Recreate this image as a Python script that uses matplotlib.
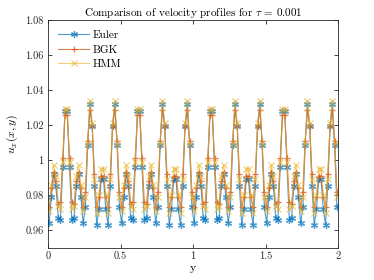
import numpy as np
import matplotlib
matplotlib.use("Agg")
import matplotlib.pyplot as plt

plt.rcParams['font.family'] = 'serif'
plt.rcParams['font.serif'] = ['cmr10', 'DejaVu Serif']
plt.rcParams['mathtext.fontset'] = 'cm'
plt.rcParams['axes.formatter.use_mathtext'] = True

# cell-centred grid on [0, 2] with 128 cells
n_cells = 128
y = (np.arange(n_cells) + 0.5) * 2.0 / n_cells

euler = [
    0.964, 0.979, 0.992, 0.985, 0.967, 0.966, 0.996, 1.028, 1.028, 0.996, 0.966, 0.967, 0.985, 0.992, 0.979, 0.964,
    0.973, 1.0086, 1.032, 1.0196, 0.985, 0.963, 0.972, 0.989, 0.989, 0.972, 0.963, 0.985, 1.0196, 1.032, 1.0086, 0.973,
    0.964, 0.979, 0.992, 0.985, 0.967, 0.966, 0.996, 1.028, 1.028, 0.996, 0.966, 0.967, 0.985, 0.992, 0.979, 0.964,
    0.973, 1.0086, 1.032, 1.0196, 0.985, 0.963, 0.972, 0.989, 0.989, 0.972, 0.963, 0.985, 1.0196, 1.032, 1.0086, 0.973,
    0.964, 0.979, 0.992, 0.985, 0.967, 0.966, 0.996, 1.028, 1.028, 0.996, 0.966, 0.967, 0.985, 0.992, 0.979, 0.964,
    0.973, 1.0086, 1.032, 1.0196, 0.985, 0.963, 0.972, 0.989, 0.989, 0.972, 0.963, 0.985, 1.0196, 1.032, 1.0086, 0.973,
    0.964, 0.979, 0.992, 0.985, 0.967, 0.966, 0.996, 1.028, 1.028, 0.996, 0.966, 0.967, 0.985, 0.992, 0.979, 0.964,
    0.973, 1.0086, 1.032, 1.0196, 0.985, 0.963, 0.972, 0.989, 0.989, 0.972, 0.963, 0.985, 1.0196, 1.032, 1.0086, 0.973,
]

bgk = [
    0.973, 0.984, 0.993, 0.988, 0.975, 0.976, 1.001, 1.0255, 1.0255, 1.001, 0.976, 0.975, 0.988, 0.993, 0.984, 0.973,
    0.982, 1.011, 1.0285, 1.0195, 0.992, 0.973, 0.979, 0.991, 0.991, 0.979, 0.973, 0.992, 1.0195, 1.0285, 1.011, 0.982,
    0.973, 0.984, 0.993, 0.988, 0.975, 0.976, 1.001, 1.0255, 1.0255, 1.001, 0.976, 0.975, 0.988, 0.993, 0.984, 0.973,
    0.982, 1.011, 1.0285, 1.0195, 0.992, 0.973, 0.979, 0.991, 0.991, 0.979, 0.973, 0.992, 1.0195, 1.0285, 1.011, 0.982,
    0.973, 0.984, 0.993, 0.988, 0.975, 0.976, 1.001, 1.0255, 1.0255, 1.001, 0.976, 0.975, 0.988, 0.993, 0.984, 0.973,
    0.982, 1.011, 1.0285, 1.0195, 0.992, 0.973, 0.979, 0.991, 0.991, 0.979, 0.973, 0.992, 1.0195, 1.0285, 1.011, 0.982,
    0.973, 0.984, 0.993, 0.988, 0.975, 0.976, 1.001, 1.0255, 1.0255, 1.001, 0.976, 0.975, 0.988, 0.993, 0.984, 0.973,
    0.982, 1.011, 1.0285, 1.0195, 0.992, 0.973, 0.979, 0.991, 0.991, 0.979, 0.973, 0.992, 1.0195, 1.0285, 1.011, 0.982,
]

hmm = [
    0.971, 0.986, 0.997, 0.991, 0.974, 0.972, 0.999, 1.029, 1.029, 0.999, 0.972, 0.974, 0.991, 0.997, 0.986, 0.971,
    0.979, 1.010, 1.034, 1.021, 0.989, 0.970, 0.980, 0.995, 0.995, 0.980, 0.970, 0.989, 1.021, 1.034, 1.010, 0.979,
    0.971, 0.986, 0.997, 0.991, 0.974, 0.972, 0.999, 1.029, 1.029, 0.999, 0.972, 0.974, 0.991, 0.997, 0.986, 0.971,
    0.979, 1.010, 1.034, 1.021, 0.989, 0.970, 0.980, 0.995, 0.995, 0.980, 0.970, 0.989, 1.021, 1.034, 1.010, 0.979,
    0.971, 0.986, 0.997, 0.991, 0.974, 0.972, 0.999, 1.029, 1.029, 0.999, 0.972, 0.974, 0.991, 0.997, 0.986, 0.971,
    0.979, 1.010, 1.034, 1.021, 0.989, 0.970, 0.980, 0.995, 0.995, 0.980, 0.970, 0.989, 1.021, 1.034, 1.010, 0.979,
    0.971, 0.986, 0.997, 0.991, 0.974, 0.972, 0.999, 1.029, 1.029, 0.999, 0.972, 0.974, 0.991, 0.997, 0.986, 0.971,
    0.979, 1.010, 1.034, 1.021, 0.989, 0.970, 0.980, 0.995, 0.995, 0.980, 0.970, 0.989, 1.021, 1.034, 1.010, 0.979,
]

series_names = ["Euler", "BGK", "HMM"]
xticks = [0, 0.5, 1, 1.5, 2]
xticklabels = ["0", "0.5", "1", "1.5", "2"]
yticks = [0.96, 0.98, 1.0, 1.02, 1.04, 1.06, 1.08]
yticklabels = ["0.96", "0.98", "1", "1.02", "1.04", "1.06", "1.08"]

fig = plt.figure(figsize=(3.74, 2.80), dpi=100)
ax = fig.add_axes([48 / 374, 1 - 247.5 / 280, 290 / 374, 227.5 / 280])

asterisk = (6, 2, 0)
ax.plot(y, euler, color='#0072BD', marker=asterisk, markersize=5, markeredgewidth=0.9,
        linewidth=0.8, alpha=0.7, label=series_names[0])
ax.plot(y, bgk, color='#D95319', marker='+', markersize=5, markeredgewidth=0.9,
        linewidth=0.8, alpha=0.75, label=series_names[1])
ax.plot(y, hmm, color='#EDB120', marker='x', markersize=4, markeredgewidth=0.9,
        linewidth=0.8, alpha=0.6, label=series_names[2])

ax.set_xlim(0, 2)
ax.set_ylim(0.95, 1.08)
ax.set_xticks(xticks)
ax.set_xticklabels(xticklabels)
ax.set_yticks(yticks)
ax.set_yticklabels(yticklabels)
ax.tick_params(direction='in', top=True, right=True, length=3, width=0.6,
               labelsize=7.5, colors='#262626', pad=3)
for s in ax.spines.values():
    s.set_linewidth(0.6)
    s.set_color('#262626')

ax.set_title(r"Comparison of velocity profiles for $\tau$ = 0.001", fontsize=8, pad=3)
ax.set_xlabel("y", fontsize=8.5, labelpad=2)
ax.set_ylabel(r"$u_x(x,y)$", fontsize=8.5, labelpad=4)

ax.legend(loc='upper left', frameon=False, fontsize=8, handlelength=2.8,
          borderaxespad=0.5, labelspacing=0.45, handletextpad=0.3)

fig.savefig("out.png", dpi=100)
